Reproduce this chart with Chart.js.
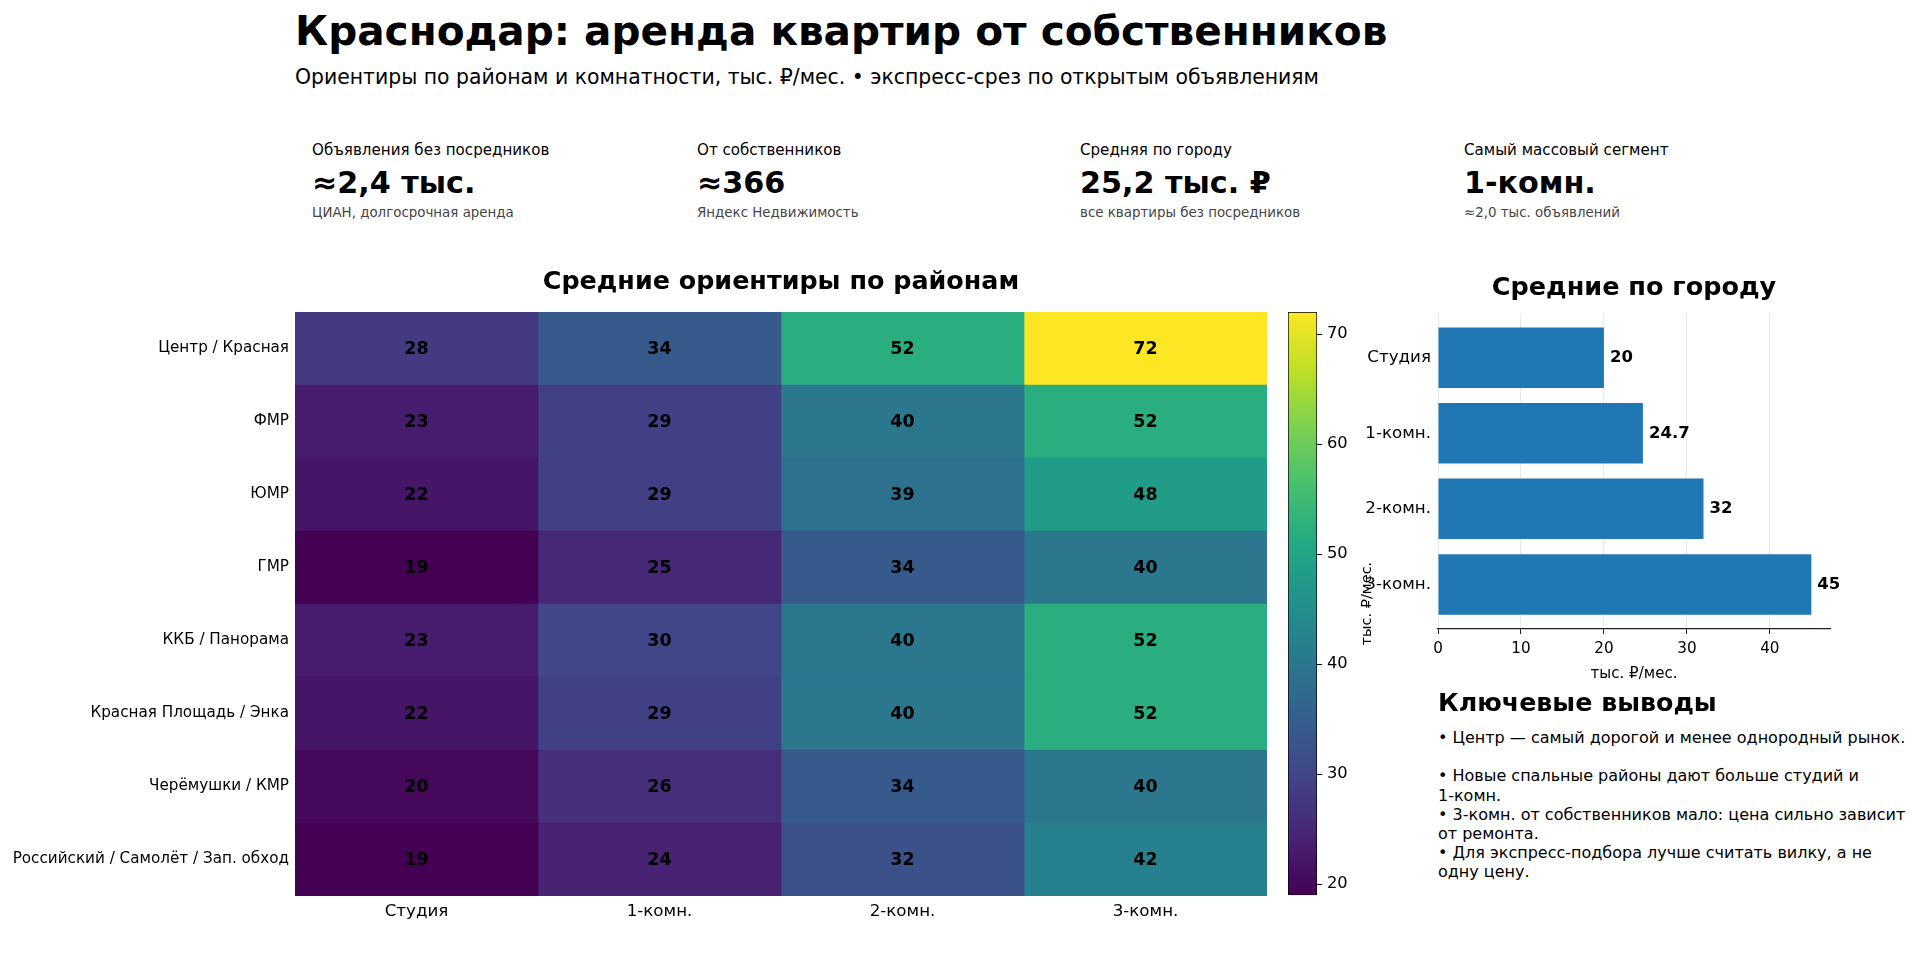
<!DOCTYPE html>
<html lang="ru">
<head>
<meta charset="utf-8">
<title>Краснодар: аренда квартир от собственников</title>
<script src="https://cdn.jsdelivr.net/npm/chart.js@4.4.1/dist/chart.umd.min.js"></script>
<style>
  html, body { margin: 0; padding: 0; background: #fff; }
  body { width: 1920px; height: 967px; position: relative; overflow: hidden; font-family: "DejaVu Sans", sans-serif; color: #000; }
  .abs { position: absolute; white-space: nowrap; }
  canvas { position: absolute; }
  .title { left: 295px; top: 7px; font-size: 40.6px; line-height: 48px; font-weight: bold; }
  .subtitle { left: 295px; top: 65px; font-size: 20.4px; line-height: 24px; }
  .kpi-label { font-size: 15.1px; line-height: 18px; top: 141px; }
  .kpi-value { font-size: 30.2px; line-height: 36px; top: 165px; font-weight: bold; }
  .kpi-note { font-size: 13.4px; line-height: 16px; top: 205px; color: #444; }
  .notes-head { left: 1438px; top: 688px; font-size: 25.3px; line-height: 30px; font-weight: bold; }
  .notes { left: 1438px; top: 728px; font-size: 16px; line-height: 19.2px; white-space: pre; }
</style>
</head>
<body>
<div class="abs title">Краснодар: аренда квартир от собственников</div>
<div class="abs subtitle">Ориентиры по районам и комнатности, тыс. ₽/мес. • экспресс-срез по открытым объявлениям</div>

<div class="abs kpi-label" style="left:312px">Объявления без посредников</div>
<div class="abs kpi-value" style="left:312px">≈2,4 тыс.</div>
<div class="abs kpi-note" style="left:312px">ЦИАН, долгосрочная аренда</div>

<div class="abs kpi-label" style="left:697px">От собственников</div>
<div class="abs kpi-value" style="left:697px">≈366</div>
<div class="abs kpi-note" style="left:697px">Яндекс Недвижимость</div>

<div class="abs kpi-label" style="left:1080px">Средняя по городу</div>
<div class="abs kpi-value" style="left:1080px">25,2 тыс. ₽</div>
<div class="abs kpi-note" style="left:1080px">все квартиры без посредников</div>

<div class="abs kpi-label" style="left:1464px">Самый массовый сегмент</div>
<div class="abs kpi-value" style="left:1464px">1-комн.</div>
<div class="abs kpi-note" style="left:1464px">≈2,0 тыс. объявлений</div>

<canvas id="heat" width="1280" height="690" style="left:0px; top:250px"></canvas>
<canvas id="cbar" width="110" height="620" style="left:1280px; top:290px"></canvas>
<canvas id="city" width="560" height="434" style="left:1360px; top:255px"></canvas>

<div class="abs notes-head">Ключевые выводы</div>
<div class="abs notes">• Центр — самый дорогой и менее однородный рынок.

• Новые спальные районы дают больше студий и
1-комн.
• 3-комн. от собственников мало: цена сильно зависит
от ремонта.
• Для экспресс-подбора лучше считать вилку, а не
одну цену.</div>

<script>
var districts = ['Центр / Красная', 'ФМР', 'ЮМР', 'ГМР', 'ККБ / Панорама',
    'Красная Площадь / Энка', 'Черёмушки / КМР', 'Российский / Самолёт / Зап. обход'];
var roomTypes = ['Студия', '1-комн.', '2-комн.', '3-комн.'];

// тыс. руб./мес. по районам (сверху вниз)
var studio = [28, 23, 22, 19, 23, 22, 20, 19];
var oneRoom = [34, 29, 29, 25, 30, 29, 26, 24];
var twoRoom = [52, 40, 39, 34, 40, 40, 34, 32];
var threeRoom = [72, 52, 48, 40, 52, 52, 40, 42];

var cityAvg = [20, 24.7, 32, 45];
var colorbarTicks = [20, 30, 40, 50, 60, 70];

var FONT = '"DejaVu Sans", sans-serif';
Chart.defaults.font.family = FONT;
Chart.defaults.color = '#000';

var columns = [studio, oneRoom, twoRoom, threeRoom];
var allValues = [].concat(studio, oneRoom, twoRoom, threeRoom);
var vmin = Math.min.apply(null, allValues);
var vmax = Math.max.apply(null, allValues);

var viridisStops = ['#440154', '#482475', '#414487', '#355f8d', '#2a788e', '#21918c',
    '#22a884', '#44bf70', '#7ad151', '#bddf26', '#fde725'];

function hexToRgb(h) {
    return [parseInt(h.slice(1, 3), 16), parseInt(h.slice(3, 5), 16), parseInt(h.slice(5, 7), 16)];
}

function viridis(t) {
    t = Math.min(1, Math.max(0, t));
    var pos = t * (viridisStops.length - 1);
    var i = Math.min(Math.floor(pos), viridisStops.length - 2);
    var f = pos - i;
    var a = hexToRgb(viridisStops[i]);
    var b = hexToRgb(viridisStops[i + 1]);
    return 'rgb(' + Math.round(a[0] + (b[0] - a[0]) * f) + ',' +
        Math.round(a[1] + (b[1] - a[1]) * f) + ',' +
        Math.round(a[2] + (b[2] - a[2]) * f) + ')';
}

// подписи значений в ячейках тепловой карты
var cellLabels = {
    id: 'cellLabels',
    afterDatasetsDraw: function (chart) {
        var ctx = chart.ctx;
        ctx.save();
        ctx.font = 'bold 17.5px ' + FONT;
        ctx.fillStyle = '#000';
        ctx.textAlign = 'center';
        ctx.textBaseline = 'middle';
        chart.data.datasets.forEach(function (ds, i) {
            chart.getDatasetMeta(i).data.forEach(function (bar, j) {
                var p = bar.getProps(['x', 'y', 'base'], true);
                ctx.fillText(String(ds.values[j]), (p.x + p.base) / 2, p.y + 1);
            });
        });
        ctx.restore();
    }
};

new Chart(document.getElementById('heat'), {
    type: 'bar',
    data: {
        labels: districts,
        datasets: columns.map(function (col, c) {
            return {
                label: roomTypes[c],
                data: col.map(function () { return [c, c + 1]; }),
                values: col,
                backgroundColor: col.map(function (v) { return viridis((v - vmin) / (vmax - vmin)); }),
                borderWidth: 0,
                grouped: false,
                barPercentage: 1,
                categoryPercentage: 1
            };
        })
    },
    options: {
        indexAxis: 'y',
        responsive: false,
        animation: false,
        layout: { padding: { left: 0, right: 13, top: 0, bottom: 14 } },
        plugins: {
            legend: { display: false },
            tooltip: { enabled: false },
            title: {
                display: true,
                text: 'Средние ориентиры по районам',
                fullSize: false,
                color: '#000',
                font: { size: 25.4, weight: 'bold' },
                padding: { top: 17, bottom: 14.5 }
            }
        },
        scales: {
            x: {
                type: 'linear',
                min: 0,
                max: 4,
                afterBuildTicks: function (axis) {
                    axis.ticks = roomTypes.map(function (_, i) { return { value: i + 0.5 }; });
                },
                afterFit: function (axis) { axis.height = 30; },
                ticks: {
                    autoSkip: false,
                    maxRotation: 0,
                    padding: 6,
                    font: { size: 16.7 },
                    callback: function (v) { return roomTypes[Math.floor(v)]; }
                },
                grid: { display: false, drawTicks: false },
                border: { display: false }
            },
            y: {
                afterFit: function (axis) { axis.width = 295; },
                ticks: { padding: 6, font: { size: 15.2 } },
                grid: { display: false, drawTicks: false },
                border: { display: false }
            }
        }
    },
    plugins: [cellLabels]
});

// подпись шкалы цвета
var cbarLabel = {
    id: 'cbarLabel',
    afterDraw: function (chart) {
        var s = chart.scales.y;
        var ctx = chart.ctx;
        ctx.save();
        ctx.translate(s.right - 23, (s.top + s.bottom) / 2);
        ctx.rotate(-Math.PI / 2);
        ctx.font = '14.5px ' + FONT;
        ctx.fillStyle = '#000';
        ctx.textAlign = 'center';
        ctx.textBaseline = 'middle';
        ctx.fillText('тыс. ₽/мес.', 0, 0);
        ctx.restore();
    }
};

new Chart(document.getElementById('cbar'), {
    type: 'bar',
    data: {
        labels: [''],
        datasets: [{
            data: [[vmin, vmax]],
            backgroundColor: function (context) {
                var area = context.chart.chartArea;
                if (!area) return viridis(0.5);
                var g = context.chart.ctx.createLinearGradient(0, area.bottom, 0, area.top);
                viridisStops.forEach(function (c, i) { g.addColorStop(i / (viridisStops.length - 1), c); });
                return g;
            },
            borderColor: '#000',
            borderWidth: 1,
            borderSkipped: false,
            barPercentage: 1,
            categoryPercentage: 1
        }]
    },
    options: {
        responsive: false,
        animation: false,
        layout: { padding: { left: 8, right: 0, top: 22, bottom: 13 } },
        plugins: { legend: { display: false }, tooltip: { enabled: false } },
        scales: {
            x: { display: false },
            y: {
                position: 'right',
                min: vmin,
                max: vmax,
                afterBuildTicks: function (axis) {
                    axis.ticks = colorbarTicks.map(function (v) { return { value: v }; });
                },
                afterFit: function (axis) { axis.width = 73; },
                ticks: { padding: 5, font: { size: 16.3 } },
                grid: { display: true, drawOnChartArea: false, drawTicks: true, tickLength: 5, tickColor: '#000', color: '#000' },
                border: { display: false }
            }
        }
    },
    plugins: [cbarLabel]
});

// подписи значений у столбцов
var barLabels = {
    id: 'barLabels',
    afterDatasetsDraw: function (chart) {
        var ctx = chart.ctx;
        ctx.save();
        ctx.font = 'bold 16.5px ' + FONT;
        ctx.fillStyle = '#000';
        ctx.textAlign = 'left';
        ctx.textBaseline = 'middle';
        chart.getDatasetMeta(0).data.forEach(function (bar, i) {
            ctx.fillText(String(cityAvg[i]), bar.x + 6, bar.y);
        });
        ctx.restore();
    }
};

new Chart(document.getElementById('city'), {
    type: 'bar',
    data: {
        datasets: [{
            data: cityAvg.map(function (v, i) { return { x: v, y: i }; }),
            backgroundColor: '#1f77b4',
            borderWidth: 0,
            barPercentage: 0.8,
            categoryPercentage: 1
        }]
    },
    options: {
        indexAxis: 'y',
        responsive: false,
        animation: false,
        layout: { padding: { left: 0, right: 90, top: 0, bottom: 0 } },
        plugins: {
            legend: { display: false },
            tooltip: { enabled: false },
            title: {
                display: true,
                text: 'Средние по городу',
                fullSize: false,
                color: '#000',
                font: { size: 25.5, weight: 'bold' },
                padding: { top: 18.5, bottom: 9 }
            }
        },
        scales: {
            x: {
                type: 'linear',
                min: 0,
                max: Math.max.apply(null, cityAvg) * 1.05,
                z: 1,
                afterFit: function (axis) { axis.height = 60; },
                ticks: { stepSize: 10, includeBounds: false, padding: 6, font: { size: 15.2 } },
                grid: { color: 'rgba(200,200,200,0.4)', tickColor: '#222', tickLength: 5 },
                border: { display: true, color: '#222', width: 1.2 },
                title: { display: true, text: 'тыс. ₽/мес.', font: { size: 15.1 }, padding: { top: 2, bottom: 6 } }
            },
            y: {
                type: 'linear',
                min: -0.59,
                max: 3.59,
                reverse: true,
                offset: false,
                afterBuildTicks: function (axis) {
                    axis.ticks = roomTypes.map(function (_, i) { return { value: i }; });
                },
                afterFit: function (axis) { axis.width = 78; },
                ticks: {
                    padding: 7,
                    font: { size: 16.7 },
                    callback: function (v) { return roomTypes[v]; }
                },
                grid: { display: false, drawTicks: false, offset: false },
                border: { display: false }
            }
        }
    },
    plugins: [barLabels]
});
</script>
</body>
</html>
